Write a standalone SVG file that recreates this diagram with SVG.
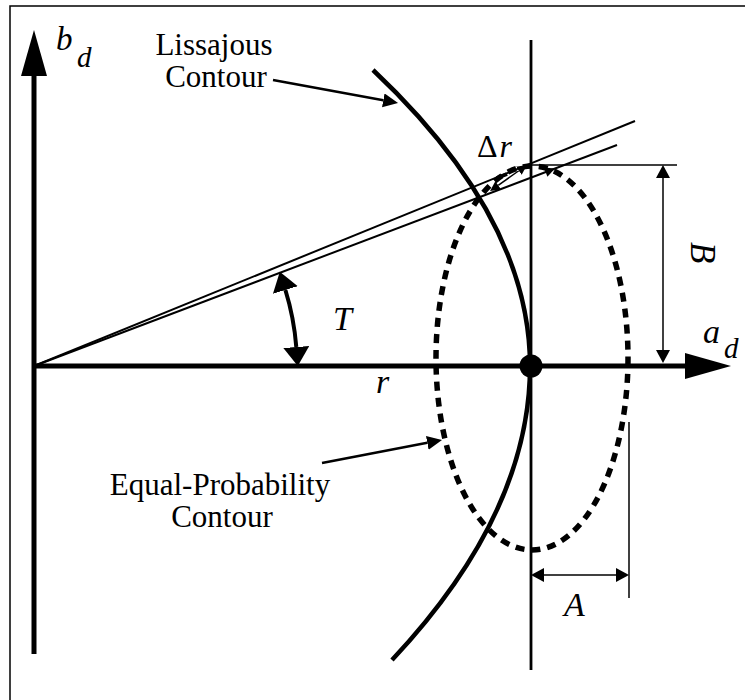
<svg xmlns="http://www.w3.org/2000/svg" width="745" height="700" viewBox="0 0 745 700">
<style>
.lbl{font-size:31px}
.m{font-style:italic;font-size:33px}
.ln{fill:none;stroke:#000}
</style>
<defs>
<marker id="big" markerUnits="userSpaceOnUse" markerWidth="50" markerHeight="30" refX="0" refY="13" orient="auto"><path d="M0,0 L46,13 L0,26 z" fill="#000"/></marker>
<marker id="med" markerUnits="userSpaceOnUse" markerWidth="22" markerHeight="28" refX="0" refY="13" orient="auto-start-reverse"><path d="M0,0 L19,13 L0,26 z" fill="#000"/></marker>
<marker id="sm" markerUnits="userSpaceOnUse" markerWidth="16" markerHeight="16" refX="0" refY="7" orient="auto-start-reverse"><path d="M0,0 L13,7 L0,14 z" fill="#000"/></marker>
<marker id="lead" markerUnits="userSpaceOnUse" markerWidth="18" markerHeight="16" refX="0" refY="7" orient="auto"><path d="M0,0 L15,7 L0,14 z" fill="#000"/></marker>
<marker id="tiny" markerUnits="userSpaceOnUse" markerWidth="12" markerHeight="12" refX="0" refY="5" orient="auto-start-reverse"><path d="M0,0 L10,5 L0,10 z" fill="#000"/></marker>
</defs>
<rect x="10" y="6" width="760" height="720" fill="#fff" stroke="#000" stroke-width="1.5"/>

<g id="axes">
<line class="ln" x1="34" y1="366" x2="685" y2="366" stroke-width="5" marker-end="url(#big)"/>
<line class="ln" x1="34" y1="654" x2="34" y2="76" stroke-width="5" marker-end="url(#big)"/>
<line class="ln" x1="531" y1="40" x2="531" y2="670" stroke-width="2.8"/>
</g>

<g id="rays">
<line class="ln" x1="34" y1="366" x2="635" y2="121" stroke-width="2"/>
<line class="ln" x1="34" y1="366" x2="617" y2="145" stroke-width="2"/>
</g>

<g id="lissajous-contour">
<path class="ln" d="M373,70 Q530,218 530,366 Q530,513 392,660" stroke-width="4.5"/>
</g>

<g id="equal-probability-contour">
<ellipse class="ln" cx="532" cy="358" rx="96" ry="192" stroke-width="5.5" stroke-dasharray="9 7"/>
</g>

<g id="point">
<circle cx="531" cy="366" r="11.5" fill="#000"/>
</g>

<g id="connectors">
<path class="ln" d="M296.3,347 A263,263 0 0 0 285.4,290" stroke-width="4" marker-start="url(#med)" marker-end="url(#med)"/>
<line class="ln" x1="273" y1="80" x2="383.3" y2="100.3" stroke-width="2.5" marker-end="url(#lead)"/>
<line class="ln" x1="322" y1="463" x2="427.3" y2="442.8" stroke-width="2.5" marker-end="url(#lead)"/>
<line class="ln" x1="531" y1="165" x2="677" y2="165" stroke-width="1.5"/>
<line class="ln" x1="663" y1="178" x2="663" y2="350" stroke-width="1.5" marker-start="url(#sm)" marker-end="url(#sm)"/>
<line class="ln" x1="629" y1="422" x2="629" y2="598" stroke-width="1.5"/>
<line class="ln" x1="544" y1="575" x2="616" y2="575" stroke-width="1.5" marker-start="url(#sm)" marker-end="url(#sm)"/>
<line class="ln" x1="498.2" y1="185.3" x2="518.8" y2="170.75" stroke-width="1.5" marker-start="url(#tiny)" marker-end="url(#tiny)"/>
<polygon points="555,168.5 547.4,176.7 543.9,167.4" fill="#000"/>
<line class="ln" x1="497" y1="178" x2="507" y2="174" stroke-width="4"/>
</g>

<g id="labels" font-family="Liberation Serif, DejaVu Serif, serif" fill="#000">
<text class="lbl" x="214" y="55" text-anchor="middle">Lissajous</text>
<text class="lbl" x="216" y="87" text-anchor="middle">Contour</text>
<text class="lbl" x="220" y="495" text-anchor="middle">Equal-Probability</text>
<text class="lbl" x="222" y="527" text-anchor="middle">Contour</text>
<text x="56" y="50" font-style="italic" font-size="33">b</text>
<text x="77" y="67" font-style="italic" font-size="29">d</text>
<text x="703" y="343" font-style="italic" font-size="34">a</text>
<text x="724" y="358" font-style="italic" font-size="29">d</text>
<text class="m" x="333" y="330" style="font-size:34px">T</text>
<text class="m" x="376" y="393" style="font-size:34px">r</text>
<text class="m" x="564" y="616" style="font-size:34px">A</text>
<text x="477" y="157" style="font-size:32px">Δ<tspan dx="2" font-style="italic">r</tspan></text>
<text class="m" transform="translate(691,242) rotate(90)" x="0" y="0" style="font-size:35px">B</text>
</g>
</svg>
